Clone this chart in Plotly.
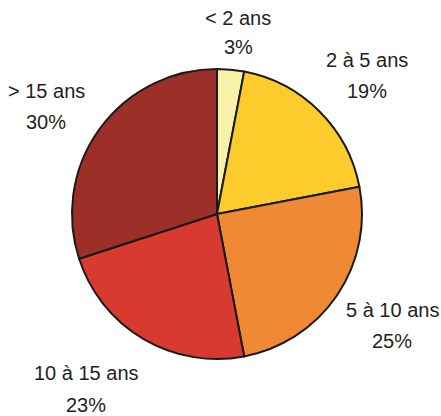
import plotly.graph_objects as go

# Age brackets and their share (%)
categories = ["< 2 ans", "2 à 5 ans", "5 à 10 ans", "10 à 15 ans", "> 15 ans"]
shares = [3, 19, 25, 23, 30]
colors = ["#F8F1A8", "#FCCB2C", "#F08933", "#D83A30", "#9C2F27"]

W, H = 441, 416

# Label anchor points in pixels: centre x, y of name line, y of percent line
label_x = [238, 367, 392, 86, 46]
label_y_name = [17.5, 60.5, 309.5, 373, 91]
label_y_pct = [47, 91, 340.5, 405, 122]

fig = go.Figure(
    go.Pie(
        labels=categories,
        values=shares,
        sort=False,
        direction="clockwise",
        rotation=0,
        marker=dict(colors=colors, line=dict(color="#1a1a1a", width=2)),
        textinfo="none",
        hoverinfo="label+percent",
        domain=dict(x=[(217 - 145) / W, (217 + 145) / W],
                    y=[1 - 359 / H, 1 - 69 / H]),
        showlegend=False,
    )
)

label_font = dict(family="Liberation Sans, Arial, sans-serif", size=20, color="#231F20")
for name, val, x, yn, yp in zip(categories, shares, label_x, label_y_name, label_y_pct):
    for txt, yy in ((name, yn), (f"{val}%", yp)):
        fig.add_annotation(
            x=x / W, y=1 - yy / H, xref="paper", yref="paper",
            text=txt, showarrow=False,
            xanchor="center", yanchor="middle",
            font=label_font,
        )

fig.update_layout(
    width=W, height=H,
    margin=dict(l=0, r=0, t=0, b=0),
    paper_bgcolor="white",
    plot_bgcolor="white",
)

fig.write_html("out.html")
